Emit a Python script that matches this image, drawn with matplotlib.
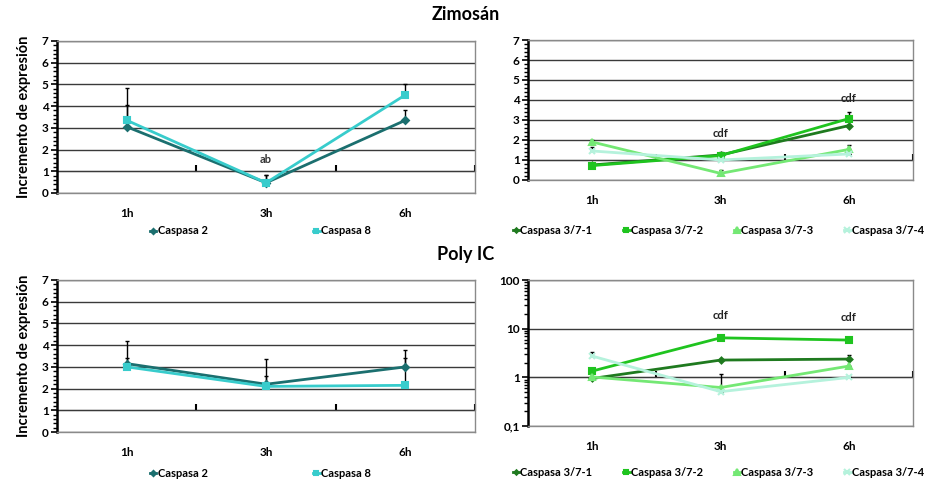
import numpy as np
import matplotlib.pyplot as plt
from matplotlib.ticker import MultipleLocator, FixedLocator, LogLocator, NullFormatter, FuncFormatter

plt.rcParams['font.family'] = ['Lato', 'DejaVu Sans']
plt.rcParams['font.weight'] = 'bold'

horas = ['1h', '3h', '6h']

# Zimosan - caspasas iniciadoras
zim_c2 = [3.05, 0.47, 3.35]
zim_c2_err = [1.0, 0.38, 0.45]
zim_c8 = [3.35, 0.47, 4.52]
zim_c8_err = [1.5, 0.38, 0.5]

# Zimosan - caspasas 3/7
zim_c37_1 = [0.75, 1.25, 2.72]
zim_c37_1_err = [0.0, 0.15, 0.0]
zim_c37_2 = [0.72, 1.22, 3.07]
zim_c37_2_err = [0.0, 0.15, 0.35]
zim_c37_3 = [1.9, 0.33, 1.53]
zim_c37_3_err = [0.1, 0.17, 0.2]
zim_c37_4 = [1.45, 1.0, 1.3]
zim_c37_4_err = [0.2, 0.0, 0.0]

# Poly IC - caspasas iniciadoras
pic_c2 = [3.15, 2.2, 3.0]
pic_c2_err = [1.05, 0.37, 0.77]
pic_c8 = [3.0, 2.1, 2.15]
pic_c8_err = [0.42, 1.25, 1.25]

# Poly IC - caspasas 3/7 (escala log)
pic_c37_1 = [0.95, 2.27, 2.38]
pic_c37_1_err = [0.0, 0.0, 0.5]
pic_c37_2 = [1.35, 6.5, 5.85]
pic_c37_2_err = [0.0, 0.0, 0.7]
pic_c37_3 = [1.02, 0.62, 1.71]
pic_c37_3_err = [0.0, 0.58, 0.0]
pic_c37_4 = [2.74, 0.51, 1.0]
pic_c37_4_err = [0.65, 0.0, 0.0]

teal_dark = '#1b6f6f'
teal = '#38cccc'
g1 = '#1f7a1f'
g2 = '#1fc41f'
g3 = '#74e874'
g4 = '#b5f2dc'

x = np.arange(len(horas))

fig = plt.figure(figsize=(9.28, 4.82), dpi=100)
ax_tl = fig.add_axes([0.0614, 0.5996, 0.4506, 0.3154])
ax_tr = fig.add_axes([0.569, 0.6266, 0.415, 0.2904])
ax_bl = fig.add_axes([0.0614, 0.1037, 0.4506, 0.3154])
ax_br = fig.add_axes([0.569, 0.116, 0.415, 0.303])


def style_axes(ax, log=False):
    ax.set_xlim(-0.5, 2.5)
    if log:
        ax.set_yscale('log')
        ax.set_ylim(0.1, 100)
        ax.yaxis.set_major_locator(FixedLocator([0.1, 1, 10, 100]))
        ax.yaxis.set_major_formatter(FuncFormatter(lambda v, p: '0,1' if v < 1 else '%d' % v))
        ax.yaxis.set_minor_locator(LogLocator(base=10, subs=np.arange(2, 10)))
        ax.yaxis.set_minor_formatter(NullFormatter())
    else:
        ax.set_ylim(0, 7)
        ax.yaxis.set_major_locator(MultipleLocator(1))
        ax.yaxis.set_minor_locator(MultipleLocator(0.2))
    ax.yaxis.grid(True, which='major', color='#3a3a3a', lw=1)
    ax.set_axisbelow(True)
    ax.set_xticks(x)
    ax.set_xticklabels(horas, fontsize=8.5, fontweight='bold')
    ax.tick_params(axis='x', length=0, pad=11)
    ax.tick_params(axis='y', which='major', length=4, width=1.2, labelsize=8.5, pad=2)
    ax.tick_params(axis='y', which='minor', length=3, width=1)
    for s in ['top', 'right', 'bottom']:
        ax.spines[s].set_color('#8a8a8a')
        ax.spines[s].set_linewidth(1)
    ax.spines['left'].set_color('black')
    ax.spines['left'].set_linewidth(1.8)
    # eje de categorias cruzando en y = 1
    sec = ax.secondary_xaxis(1, transform=ax.transData)
    sec.spines['bottom'].set_linewidth(2)
    sec.spines['bottom'].set_color('black')
    sec.set_xticks([0.5, 1.5, 2.5])
    sec.set_xticklabels([])
    sec.tick_params(length=4, width=1.5, direction='out')


def serie(ax, y, err, color, marker, label, ms=4):
    ax.errorbar(x, y, yerr=[np.zeros(len(err)), err], fmt='none', ecolor='black',
                elinewidth=1, capsize=1.5, capthick=1, zorder=3)
    ax.plot(x, y, color=color, lw=2, marker=marker, ms=ms, mec=color, mfc=color,
            mew=1.5, label=label, zorder=4)


def leyenda(ax, x0, y, ncol, spacing):
    ax.legend(loc='center left', bbox_to_anchor=(x0, y), ncol=ncol, frameon=False,
              handlelength=0.6, handletextpad=0.1, columnspacing=spacing, markerscale=0.75,
              borderaxespad=0, borderpad=0, prop={'weight': 'bold', 'size': 8})


# Zimosan izquierda
style_axes(ax_tl)
serie(ax_tl, zim_c2, zim_c2_err, teal_dark, 'D', 'Caspasa 2', ms=3.5)
serie(ax_tl, zim_c8, zim_c8_err, teal, 's', 'Caspasa 8', ms=4.5)
ax_tl.text(1, 1.55, 'ab', ha='center', va='center', fontsize=8, color='#333333')
ax_tl.set_ylabel('Incremento de expresión', fontsize=10.5, fontweight='bold', labelpad=8)

# Zimosan derecha
style_axes(ax_tr)
serie(ax_tr, zim_c37_1, zim_c37_1_err, g1, 'D', 'Caspasa 3/7-1', ms=3)
serie(ax_tr, zim_c37_2, zim_c37_2_err, g2, 's', 'Caspasa 3/7-2', ms=4.5)
serie(ax_tr, zim_c37_3, zim_c37_3_err, g3, '^', 'Caspasa 3/7-3', ms=5)
serie(ax_tr, zim_c37_4, zim_c37_4_err, g4, 'x', 'Caspasa 3/7-4', ms=5)
ax_tr.text(1, 2.33, 'cdf', ha='center', va='center', fontsize=8, color='#222222')
ax_tr.text(2, 4.05, 'cdf', ha='center', va='center', fontsize=8, color='#222222')

# Poly IC izquierda
style_axes(ax_bl)
serie(ax_bl, pic_c2, pic_c2_err, teal_dark, 'D', 'Caspasa 2', ms=3.5)
serie(ax_bl, pic_c8, pic_c8_err, teal, 's', 'Caspasa 8', ms=4.5)
ax_bl.set_ylabel('Incremento de expresión', fontsize=10.5, fontweight='bold', labelpad=8)

# Poly IC derecha
style_axes(ax_br, log=True)
serie(ax_br, pic_c37_1, pic_c37_1_err, g1, 'D', 'Caspasa 3/7-1', ms=3)
serie(ax_br, pic_c37_2, pic_c37_2_err, g2, 's', 'Caspasa 3/7-2', ms=4.5)
serie(ax_br, pic_c37_3, pic_c37_3_err, g3, '^', 'Caspasa 3/7-3', ms=5)
serie(ax_br, pic_c37_4, pic_c37_4_err, g4, 'x', 'Caspasa 3/7-4', ms=5)
ax_br.text(1, 18.5, 'cdf', ha='center', va='center', fontsize=8, color='#222222')
ax_br.text(2, 17, 'cdf', ha='center', va='center', fontsize=8, color='#222222')

leyenda(ax_tl, 0.222, -0.25, 2, 9.5)
leyenda(ax_tr, -0.04, -0.36, 4, 2.75)
leyenda(ax_bl, 0.222, -0.27, 2, 9.5)
leyenda(ax_br, -0.04, -0.315, 4, 2.75)

fig.text(0.502, 0.969, 'Zimosán', ha='center', va='center', fontsize=13, fontweight='bold')
fig.text(0.502, 0.471, 'Poly IC', ha='center', va='center', fontsize=13, fontweight='bold')

fig.savefig('out.png', dpi=100)
